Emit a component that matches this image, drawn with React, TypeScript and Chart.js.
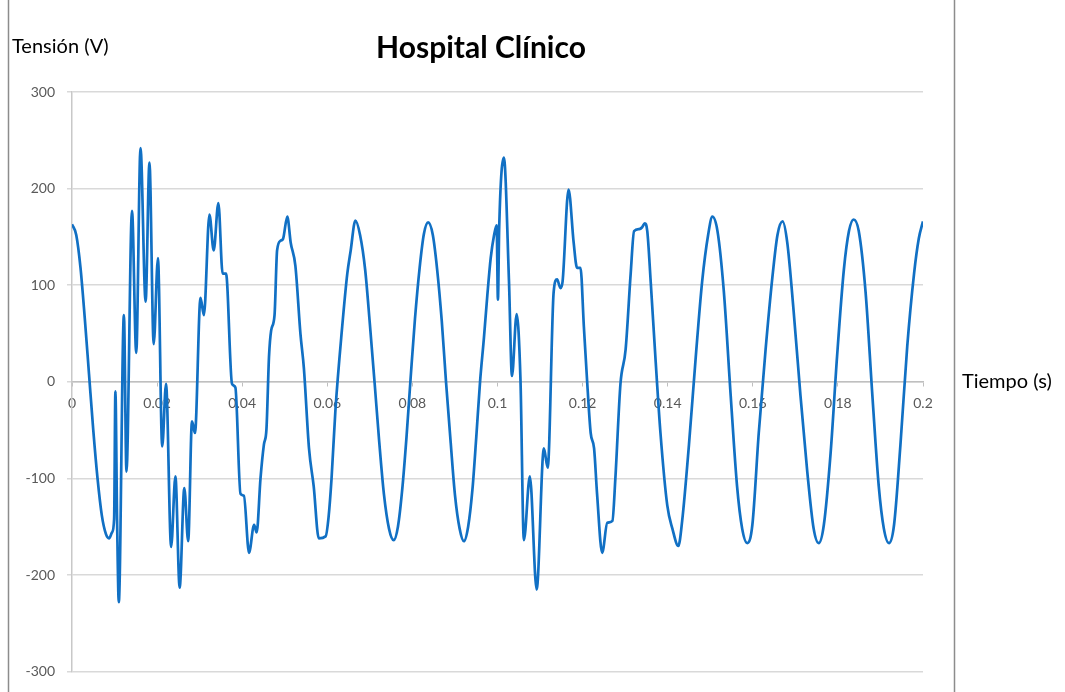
import React, { useEffect, useRef } from "react";
import { Chart, registerables } from "chart.js";

Chart.register(...registerables);

const chartTitle = "Hospital Clínico";
const yAxisTitle = "Tensión (V)";
const xAxisTitle = "Tiempo (s)";

const xTickValues = [0, 0.02, 0.04, 0.06, 0.08, 0.1, 0.12, 0.14, 0.16, 0.18, 0.2];
const yTickValues = [-300, -200, -100, 0, 100, 200, 300];

// Time (s)
const times = [
  0.0000, 0.0010, 0.0020, 0.0030, 0.0040, 0.0050, 0.0060, 0.0070, 0.0080, 0.0087,
  0.0094, 0.0099, 0.0102, 0.0106, 0.0110, 0.0122, 0.0128, 0.0141, 0.0151, 0.0161,
  0.0173, 0.0182, 0.0192, 0.0202, 0.0212, 0.0221, 0.0233, 0.0243, 0.0253, 0.0264,
  0.0273, 0.0282, 0.0289, 0.0302, 0.0310, 0.0323, 0.0333, 0.0344, 0.0354, 0.0362,
  0.0376, 0.0384, 0.0396, 0.0404, 0.0416, 0.0428, 0.0434, 0.0443, 0.0451, 0.0457,
  0.0463, 0.0468, 0.0476, 0.0482, 0.0490, 0.0496, 0.0506, 0.0514, 0.0525, 0.0537,
  0.0545, 0.0557, 0.0568, 0.0580, 0.0596, 0.0603, 0.0610, 0.0619, 0.0635, 0.0647,
  0.0655, 0.0666, 0.0677, 0.0689, 0.0700, 0.0711, 0.0722, 0.0733, 0.0745, 0.0756,
  0.0766, 0.0776, 0.0786, 0.0796, 0.0806, 0.0817, 0.0827, 0.0837, 0.0848, 0.0858,
  0.0869, 0.0879, 0.0890, 0.0900, 0.0911, 0.0921, 0.0931, 0.0941, 0.0950, 0.0959,
  0.0968, 0.0976, 0.0984, 0.0992, 0.0998, 0.1001, 0.1004, 0.1015, 0.1027, 0.1034,
  0.1045, 0.1054, 0.1062, 0.1076, 0.1092, 0.1109, 0.1118, 0.1132, 0.1140, 0.1148,
  0.1153, 0.1167, 0.1179, 0.1187, 0.1195, 0.1203, 0.1211, 0.1219, 0.1227, 0.1234,
  0.1246, 0.1258, 0.1270, 0.1277, 0.1289, 0.1301, 0.1313, 0.1321, 0.1333, 0.1340,
  0.1346, 0.1352, 0.1360, 0.1371, 0.1383, 0.1399, 0.1411, 0.1425, 0.1434, 0.1450,
  0.1466, 0.1481, 0.1495, 0.1505, 0.1517, 0.1532, 0.1548, 0.1563, 0.1575, 0.1587,
  0.1599, 0.1614, 0.1630, 0.1646, 0.1658, 0.1670, 0.1681, 0.1696, 0.1712, 0.1728,
  0.1743, 0.1755, 0.1767, 0.1783, 0.1798, 0.1814, 0.1826, 0.1837, 0.1849, 0.1865,
  0.1881, 0.1896, 0.1908, 0.1920, 0.1932, 0.1947, 0.1963, 0.1979, 0.1990, 0.2000,
];

// Tension (V)
const volts = [
  163, 152, 118, 66, 8, -50, -100, -138, -158, -162,
  -156, -142, -10, -144, -228, 69, -93, 177, 30, 242,
  83, 227, 39, 128, -67, -2, -171, -98, -213, -110,
  -165, -41, -53, 87, 69, 173, 136, 185, 112, 112,
  -2, -6, -116, -118, -177, -148, -156, -100, -65, -49,
  26, 53, 69, 136, 146, 148, 171, 144, 120, 49,
  14, -69, -108, -162, -160, -140, -100, -30, 57, 112,
  136, 167, 152, 116, 60, 0, -62, -116, -152, -164,
  -150, -112, -58, 5, 65, 118, 153, 165, 152, 117,
  63, 0, -63, -117, -152, -165, -150, -112, -58, 0,
  45, 89, 128, 152, 162, 85, 160, 232, 104, 6,
  70, 2, -164, -98, -215, -69, -89, 93, 106, 97,
  104, 199, 144, 118, 118, 57, -2, -53, -69, -116,
  -177, -146, -144, -100, -2, 33, 112, 156, 158, 160,
  164, 156, 104, 26, -53, -128, -152, -170, -144, -65,
  26, 104, 152, 171, 156, 93, -14, -108, -152, -167,
  -148, -53, 33, 108, 152, 166, 144, 73, -14, -93,
  -152, -167, -148, -73, 26, 116, 156, 168, 156, 93,
  -14, -108, -152, -167, -148, -65, 37, 112, 148, 166,
];

const FONT = "Lato, 'Liberation Sans', sans-serif";

export default function App() {
  const canvasRef = useRef<HTMLCanvasElement | null>(null);

  useEffect(() => {
    const canvas = canvasRef.current;
    if (!canvas) return;

    const framePlugin = {
      id: "frame",
      beforeDraw(chart: any) {
        const ctx = chart.ctx;
        ctx.save();
        ctx.fillStyle = "#ffffff";
        ctx.fillRect(0, 0, chart.width, chart.height);
        ctx.strokeStyle = "#8c8c8c";
        ctx.lineWidth = 1.5;
        ctx.beginPath();
        ctx.moveTo(8.5, 0);
        ctx.lineTo(8.5, chart.height);
        ctx.moveTo(954.5, 0);
        ctx.lineTo(954.5, chart.height);
        ctx.stroke();
        ctx.restore();
      },
      afterDraw(chart: any) {
        const ctx = chart.ctx;
        const area = chart.chartArea;
        const zeroY = chart.scales.y.getPixelForValue(0);
        ctx.save();
        ctx.fillStyle = "#000000";
        ctx.textBaseline = "middle";
        ctx.textAlign = "center";
        ctx.font = `bold 30px ${FONT}`;
        ctx.fillText(chartTitle, 481, 48);
        ctx.textAlign = "left";
        ctx.font = `20px ${FONT}`;
        ctx.fillText(yAxisTitle, 12, 47);
        ctx.fillText(xAxisTitle, area.right + 39, zeroY);
        ctx.restore();
      },
    };

    const chart = new Chart(canvas, {
      type: "line",
      data: {
        datasets: [
          {
            data: times.map((t, i) => ({ x: t, y: volts[i] })),
            borderColor: "#1170c4",
            borderWidth: 2.7,
            pointRadius: 0,
            fill: false,
            cubicInterpolationMode: "monotone",
          },
        ],
      },
      options: {
        animation: false,
        responsive: false,
        maintainAspectRatio: false,
        layout: { padding: { left: 8, right: 142, top: 92, bottom: 20 } },
        plugins: {
          legend: { display: false },
          title: { display: false },
          tooltip: { enabled: false },
        },
        scales: {
          x: {
            type: "linear",
            min: 0,
            max: 0.2,
            position: { y: 0 },
            afterBuildTicks: (scale: any) => {
              scale.ticks = xTickValues.map((v) => ({ value: v }));
            },
            grid: {
              drawOnChartArea: false,
              drawTicks: true,
              tickLength: 4,
              color: "#bfbfbf",
              lineWidth: 1,
            },
            border: { display: true, color: "#bfbfbf", width: 1.5 },
            ticks: {
              color: "#595959",
              font: { family: FONT, size: 14 },
              padding: 9,
              maxRotation: 0,
              autoSkip: false,
              callback: (v: any) => String(parseFloat(Number(v).toFixed(4))),
            },
          },
          y: {
            type: "linear",
            min: -300,
            max: 300,
            afterFit: (scale: any) => {
              scale.width = 64;
            },
            afterBuildTicks: (scale: any) => {
              scale.ticks = yTickValues.map((v) => ({ value: v }));
            },
            grid: {
              color: "#d9d9d9",
              lineWidth: 1.5,
              tickLength: 5,
            },
            border: { display: true, color: "#c8c8c8", width: 1.5 },
            ticks: {
              color: "#595959",
              font: { family: FONT, size: 14 },
              padding: 12,
            },
          },
        },
      },
      plugins: [framePlugin],
    } as any);

    return () => {
      chart.destroy();
    };
  }, []);

  return (
    <div style={{ position: "absolute", left: 0, top: 0, width: 1065, height: 692 }}>
      <canvas ref={canvasRef} width={1065} height={692} style={{ display: "block" }} />
    </div>
  );
}
